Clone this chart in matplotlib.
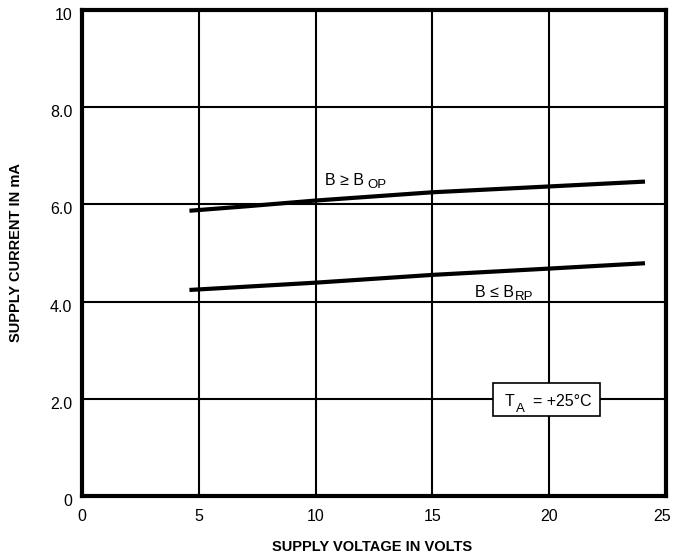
import matplotlib
matplotlib.use('Agg')
import matplotlib.pyplot as plt
from matplotlib.patches import Rectangle
from matplotlib.transforms import ScaledTranslation

plt.rcParams['font.family'] = ['Liberation Sans', 'DejaVu Sans']

# curve B >= B_OP
op_volts = [4.6, 7.0, 10.0, 15.0, 20.0, 24.1]
op_current = [5.87, 5.96, 6.08, 6.25, 6.37, 6.47]
# curve B <= B_RP
rp_volts = [4.6, 10.0, 15.0, 20.0, 24.1]
rp_current = [4.24, 4.39, 4.55, 4.68, 4.79]

xticks = [0, 5, 10, 15, 20, 25]
yticks = [0, 2, 4, 6, 8, 10]
ylabels = ['0', '2.0', '4.0', '6.0', '8.0', '10']

fig = plt.figure(figsize=(6.73, 5.58), dpi=100)
ax = fig.add_axes([0.1218, 0.1111, 0.8678, 0.8709])

for x in xticks[1:-1]:
    ax.axvline(x, color='black', lw=1.5, zorder=1)
for y in yticks[1:-1]:
    ax.axhline(y, color='black', lw=1.5, zorder=1)

ax.plot(op_volts, op_current, color='black', lw=3, zorder=3, solid_capstyle='butt')
ax.plot(rp_volts, rp_current, color='black', lw=3, zorder=3, solid_capstyle='butt')

fs = 11.5
ax.text(10.40, 6.40, 'B \u2265 B', fontsize=fs, va='baseline')
ax.text(12.20, 6.33, 'OP', fontsize=9.5, va='baseline')
ax.text(16.82, 4.10, 'B \u2264 B', fontsize=fs, va='baseline')
ax.text(18.54, 4.04, 'RP', fontsize=9.5, va='baseline')

ax.add_patch(Rectangle((17.58, 1.65), 4.59, 0.68, fc='white', ec='black', lw=1.2, zorder=4))
ax.text(18.11, 1.85, 'T', fontsize=fs, va='baseline', zorder=5)
ax.text(18.57, 1.73, 'A', fontsize=9.5, va='baseline', zorder=5)
ax.text(19.31, 1.85, '= +25°C', fontsize=fs, va='baseline', zorder=5)

ax.set_xlim(0, 25)
ax.set_ylim(0, 10)
ax.set_xticks(xticks)
ax.set_yticks(yticks)
ax.set_yticklabels(ylabels)
ax.tick_params(axis='x', length=0, pad=9, labelsize=fs)
ax.tick_params(axis='y', length=0, pad=7, labelsize=fs)
for s in ax.spines.values():
    s.set_linewidth(3)

# keep the last x label inside the figure
last = ax.get_xticklabels()[-1]
last.set_transform(last.get_transform() + ScaledTranslation(-4 / 100, 0, fig.dpi_scale_trans))
# y labels sit a little below their gridlines in the original
for lab in ax.get_yticklabels():
    lab.set_transform(lab.get_transform() + ScaledTranslation(0, -4 / 100, fig.dpi_scale_trans))

fig.text(372 / 673, 1 - 547 / 558, 'SUPPLY VOLTAGE IN VOLTS', fontsize=10.5,
         fontweight='bold', ha='center', va='center')
fig.text(16 / 673, 1 - 253 / 558, 'SUPPLY CURRENT IN mA', fontsize=10.5,
         fontweight='bold', ha='center', va='center', rotation=90)

fig.savefig('out.png', dpi=100)
